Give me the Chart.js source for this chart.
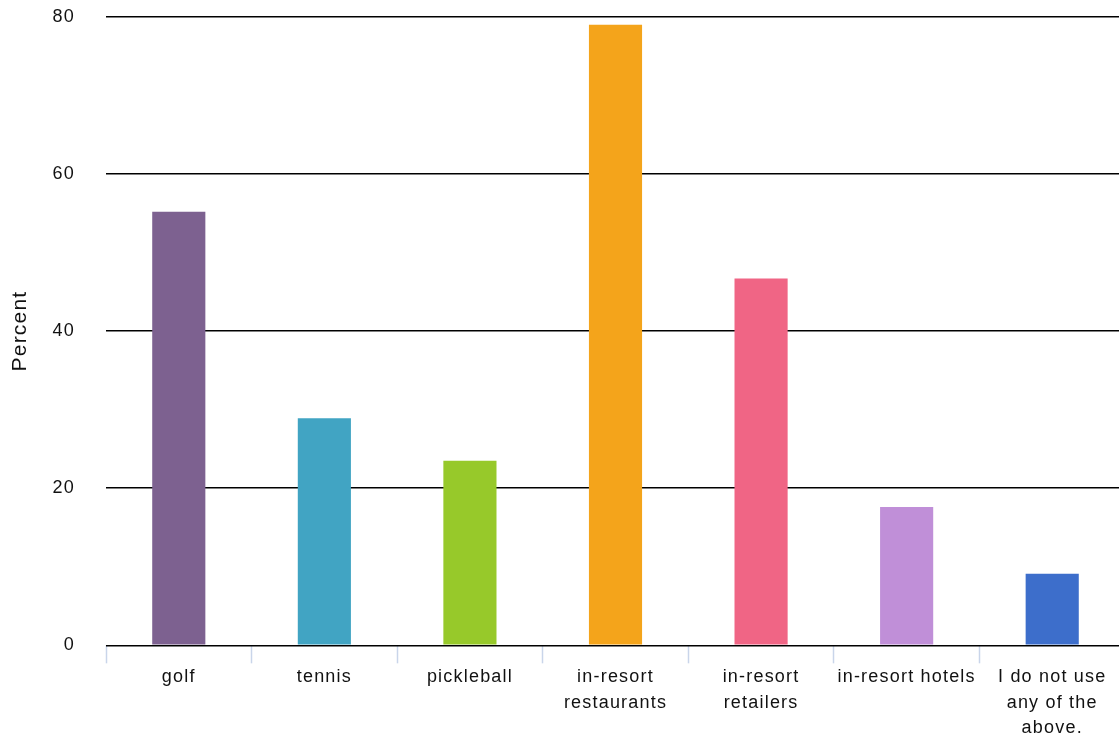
<!DOCTYPE html>
<html>
<head>
<meta charset="utf-8">
<script src="https://cdn.jsdelivr.net/npm/chart.js@4/dist/chart.umd.min.js"></script>
<style>
  html, body { margin: 0; padding: 0; background: #fff; overflow: hidden; }
  #wrap { position: relative; width: 1125px; height: 767px; margin-top: -25px; }
</style>
</head>
<body>
<div id="wrap"><canvas id="usageChart"></canvas></div>
<script>
// ------------------ DONNEES ------------------
const categories = [
    'golf',
    'tennis',
    'pickleball',
    ['in-resort', 'restaurants'],
    ['in-resort', 'retailers'],
    'in-resort hotels',
    ['I do not use', 'any of the', 'above.']
];
const percentValues = [55.2, 28.9, 23.5, 79.0, 46.7, 17.6, 9.1];
const barColors = ['#7d6190', '#41a4c3', '#97c92a', '#f4a41b', '#f06585', '#c08fd8', '#3d6ecb'];
const yTicks = [0, 20, 40, 60, 80];

const fontFamily = "'Liberation Sans', Arial, sans-serif";

// Espacement des lettres (le texte de référence est un peu plus large)
const letterSpacingPlugin = {
    id: 'letterSpacing',
    beforeUpdate: chart => { chart.ctx.letterSpacing = '1.2px'; },
    beforeDraw: chart => { chart.ctx.letterSpacing = '1.2px'; }
};

const ctx = document.getElementById('usageChart').getContext('2d');
new Chart(ctx, {
    type: 'bar',
    plugins: [letterSpacingPlugin],
    data: {
        labels: categories,
        datasets: [{
            label: 'Percent',
            data: percentValues,
            backgroundColor: barColors,
            borderWidth: 0,
            categoryPercentage: 1,
            barPercentage: 0.365
        }]
    },
    options: {
        responsive: true,
        maintainAspectRatio: false,
        animation: false,
        layout: { padding: 0 },
        scales: {
            x: {
                grid: {
                    drawOnChartArea: false,
                    drawTicks: true,
                    tickLength: 18,
                    tickColor: '#c9d5ea',
                    tickWidth: 1.5,
                    offset: true
                },
                border: { display: false },
                ticks: {
                    color: '#111',
                    padding: 1,
                    maxRotation: 0,
                    autoSkip: false,
                    font: { family: fontFamily, size: 18, lineHeight: 1.42 }
                }
            },
            y: {
                min: 0,
                max: 80,
                afterBuildTicks: axis => { axis.ticks = yTicks.map(v => ({ value: v })); },
                afterFit: axis => { axis.width = 106; },
                grid: {
                    color: '#000',
                    lineWidth: 1.5,
                    drawTicks: false
                },
                border: { display: false },
                ticks: {
                    color: '#111',
                    padding: 31,
                    font: { family: fontFamily, size: 18 }
                },
                title: {
                    display: true,
                    text: 'Percent',
                    color: '#111',
                    padding: { top: 8, bottom: 0 },
                    font: { family: fontFamily, size: 21 }
                }
            }
        },
        plugins: {
            legend: { display: false },
            tooltip: { enabled: false }
        }
    }
});
</script>
</body>
</html>
